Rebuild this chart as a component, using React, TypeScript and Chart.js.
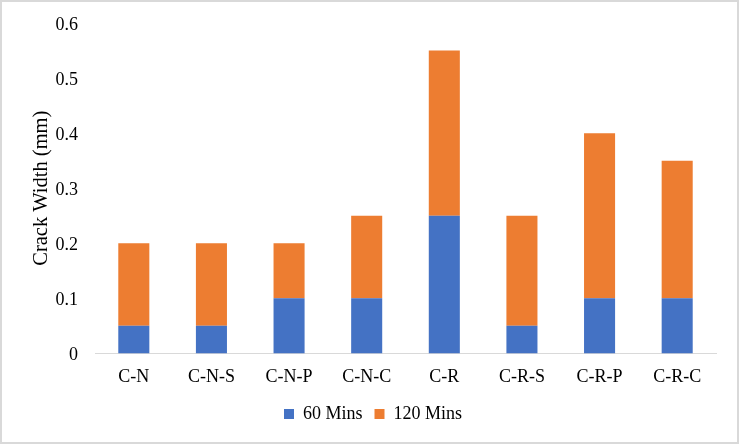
import React, { useEffect, useRef } from "react";
import { Chart, registerables } from "chart.js";

Chart.register(...registerables);

const categories = ["C-N", "C-N-S", "C-N-P", "C-N-C", "C-R", "C-R-S", "C-R-P", "C-R-C"];
const mins60 = [0.05, 0.05, 0.1, 0.1, 0.25, 0.05, 0.1, 0.1];
const mins120 = [0.15, 0.15, 0.1, 0.15, 0.3, 0.2, 0.3, 0.25];
const yTicks = [0, 0.1, 0.2, 0.3, 0.4, 0.5, 0.6];

const FONT = "'Liberation Serif', 'Times New Roman', serif";

export default function App() {
  const ref = useRef<HTMLCanvasElement | null>(null);

  useEffect(() => {
    document.body.style.margin = "0";
    if (!ref.current) return;
    const chart = new Chart(ref.current, {
      type: "bar",
      data: {
        labels: categories,
        datasets: [
          {
            label: "60 Mins",
            data: mins60,
            backgroundColor: "#4472C4",
            borderWidth: 0,
            barPercentage: 0.4,
            categoryPercentage: 1,
          },
          {
            label: "120 Mins",
            data: mins120,
            backgroundColor: "#ED7D31",
            borderWidth: 0,
            barPercentage: 0.4,
            categoryPercentage: 1,
          },
        ],
      },
      options: {
        animation: false,
        responsive: false,
        maintainAspectRatio: false,
        layout: { padding: { left: 7, right: 0, top: 21, bottom: 9 } },
        plugins: {
          legend: {
            position: "bottom",
            labels: {
              boxWidth: 10,
              boxHeight: 10,
              padding: 12,
              color: "#000",
              font: { family: FONT, size: 18 },
            },
          },
          tooltip: { enabled: false },
        },
        scales: {
          x: {
            stacked: true,
            grid: { display: false },
            border: { display: true, color: "#d9d9d9", width: 1 },
            ticks: { color: "#000", font: { family: FONT, size: 18 }, padding: 5 },
          },
          y: {
            stacked: true,
            min: 0,
            max: 0.6,
            afterBuildTicks: (s: any) => {
              s.ticks = yTicks.map((v) => ({ value: v }));
            },
            afterFit: (s: any) => {
              s.width = 86;
              s.paddingTop = 0;
              s.paddingBottom = 0;
            },
            grid: { display: false },
            border: { display: false },
            ticks: {
              color: "#000",
              font: { family: FONT, size: 18 },
              padding: 9,
              labelOffset: 2,
              callback: (v: any) => (Number(v) === 0 ? "0" : Number(v).toFixed(1)),
            },
            title: {
              display: true,
              text: "Crack Width (mm)",
              color: "#000",
              font: { family: FONT, size: 20.5 },
              padding: { top: 20, bottom: 0 },
            },
          },
          yRight: {
            position: "right",
            display: true,
            min: 0,
            max: 0.6,
            grid: { display: false },
            border: { display: false },
            ticks: { display: false },
            afterFit: (s: any) => {
              s.width = 21;
              s.paddingTop = 0;
              s.paddingBottom = 0;
            },
          },
        },
      },
    });
    return () => chart.destroy();
  }, []);

  return (
    <div
      style={{
        width: 739,
        height: 444,
        boxSizing: "border-box",
        border: "2px solid #d9d9d9",
        background: "#fff",
        position: "relative",
      }}
    >
      <canvas ref={ref} width={735} height={440} style={{ display: "block" }} />
    </div>
  );
}
